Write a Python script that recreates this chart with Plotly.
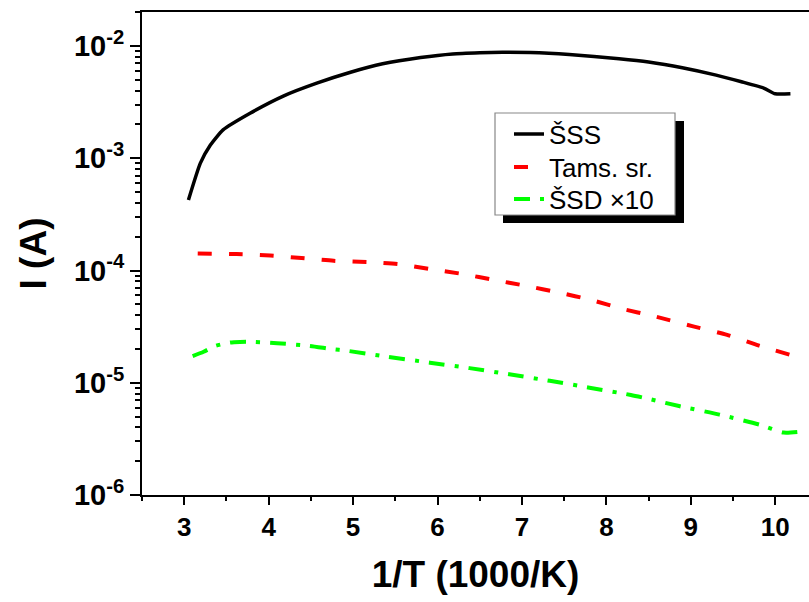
import plotly.graph_objects as go

# ---- data ----
x_sss = [3.05, 3.19, 3.31, 3.46, 3.78, 4.18, 4.57, 4.96, 5.35, 5.8, 6.18, 6.5,
         6.77, 7.1, 7.56, 8.15, 8.5, 8.9, 9.3, 9.6, 9.87, 10.0, 10.18]
y_sss = [4.25e-4, 9.0e-4, 1.31e-3, 1.79e-3, 2.52e-3, 3.6e-3, 4.67e-3, 5.81e-3,
         6.94e-3, 7.9e-3, 8.5e-3, 8.7e-3, 8.8e-3, 8.75e-3, 8.4e-3, 7.7e-3, 7.2e-3,
         6.4e-3, 5.5e-3, 4.8e-3, 4.2e-3, 3.75e-3, 3.75e-3]

x_tams = [3.16, 3.62, 4.02, 4.39, 4.77, 5.16, 5.53, 5.91, 6.30, 6.68, 7.05, 7.44,
          7.82, 8.19, 8.55, 9.04, 9.43, 9.81, 10.18]
y_tams = [1.42e-4, 1.40e-4, 1.36e-4, 1.29e-4, 1.22e-4, 1.19e-4, 1.14e-4, 1.03e-4,
          9.3e-5, 8.2e-5, 7.3e-5, 6.35e-5, 5.47e-5, 4.55e-5, 3.94e-5, 3.16e-5,
          2.67e-5, 2.14e-5, 1.77e-5]

x_ssd = [3.10, 3.23, 3.37, 3.54, 3.66, 3.84, 4.10, 4.49, 4.74, 4.92, 5.40, 5.91,
         6.38, 6.85, 7.33, 7.80, 8.29, 8.53, 8.86, 9.34, 9.83, 10.10, 10.30]
y_ssd = [1.73e-5, 1.89e-5, 2.13e-5, 2.28e-5, 2.31e-5, 2.31e-5, 2.25e-5, 2.13e-5,
         2.0e-5, 1.93e-5, 1.71e-5, 1.51e-5, 1.35e-5, 1.19e-5, 1.04e-5, 9.04e-6,
         7.78e-6, 7.1e-6, 6.2e-6, 5.2e-6, 4.2e-6, 3.6e-6, 3.67e-6]

names = ["ŠSS", "Tams. sr.", "ŠSD ×10"]
x_ticks = [3, 4, 5, 6, 7, 8, 9, 10]
y_ticks = [1e-6, 1e-5, 1e-4, 1e-3, 1e-2]
y_ticktext = ["10<sup>-6</sup>", "10<sup>-5</sup>", "10<sup>-4</sup>",
              "10<sup>-3</sup>", "10<sup>-2</sup>"]
y_minor = [m * 10.0 ** e for e in range(-6, -1) for m in range(2, 10)]

FONT = "Liberation Sans, Arial, sans-serif"

fig = go.Figure()
fig.add_trace(go.Scatter(x=x_sss, y=y_sss, mode="lines", name=names[0], legend="legend",
                         line=dict(color="black", width=3.5, shape="spline", smoothing=0.5)))
fig.add_trace(go.Scatter(x=x_tams, y=y_tams, mode="lines", name=names[1], legend="legend2",
                         line=dict(color="#ff0000", width=4, dash="14px,17px",
                                   shape="spline", smoothing=0.6)))
fig.add_trace(go.Scatter(x=x_ssd, y=y_ssd, mode="lines", name=names[2], legend="legend3",
                         line=dict(color="#00ff00", width=4, dash="16px,10px,4px,10px",
                                   shape="spline", smoothing=0.6)))

W, H = 809, 602
L, R, T, B = 142, 0, 12, 107
pw, ph = W - L - R, H - T - B

def px2paper(px, py):
    return (px - L) / pw, (H - B - py) / ph

# legend shadow and box
sx0, sy1 = px2paper(503, 121)
sx1, sy0 = px2paper(684, 223)
bx0, by1 = px2paper(495, 113)
bx1, by0 = px2paper(675, 215)
shapes = [
    dict(type="rect", xref="paper", yref="paper", x0=sx0, x1=sx1, y0=sy0, y1=sy1,
         fillcolor="black", line=dict(width=0), layer="above"),
    dict(type="rect", xref="paper", yref="paper", x0=bx0, x1=bx1, y0=by0, y1=by1,
         fillcolor="white", line=dict(color="#888888", width=1.2), layer="above"),
]

def leg(py):
    lx, ly = px2paper(509, py)
    return dict(x=lx, y=ly, xanchor="left", yanchor="middle",
                bgcolor="rgba(0,0,0,0)", borderwidth=0,
                font=dict(family=FONT, size=26, color="black"), itemwidth=30)

fig.update_layout(
    width=W, height=H,
    margin=dict(l=L, r=R, t=T, b=B, pad=0),
    paper_bgcolor="white", plot_bgcolor="white",
    font=dict(family=FONT, color="black"),
    shapes=shapes,
    showlegend=True,
    legend=leg(134), legend2=leg(167), legend3=leg(199),
    xaxis=dict(
        range=[2.5, 10.4], showgrid=False, zeroline=False,
        showline=True, linecolor="black", linewidth=2, mirror=True,
        tickmode="array", tickvals=x_ticks,
        ticks="outside", ticklen=8, tickwidth=2, tickcolor="black",
        minor=dict(dtick=0.5, tick0=2.5, ticks="outside", ticklen=4,
                   tickwidth=2, tickcolor="black"),
        tickfont=dict(family=FONT, size=26, color="black", weight="bold"),
        title=dict(text="1/T (1000/K)", standoff=20,
                   font=dict(family=FONT, size=37, color="black", weight="bold")),
    ),
    yaxis=dict(
        type="log", range=[-6, -1.697], showgrid=False, zeroline=False,
        showline=True, linecolor="black", linewidth=2, mirror=False,
        tickmode="array", tickvals=y_ticks, ticktext=y_ticktext,
        ticks="outside", ticklen=10, tickwidth=2, tickcolor="black",
        minor=dict(tickmode="array", tickvals=y_minor, ticks="outside", ticklen=5,
                   tickwidth=2, tickcolor="black"),
        tickfont=dict(family=FONT, size=29, color="black", weight="bold"),
        title=dict(text="I (A)", standoff=16,
                   font=dict(family=FONT, size=37, color="black", weight="bold")),
    ),
)

fig.write_html("out.html")
